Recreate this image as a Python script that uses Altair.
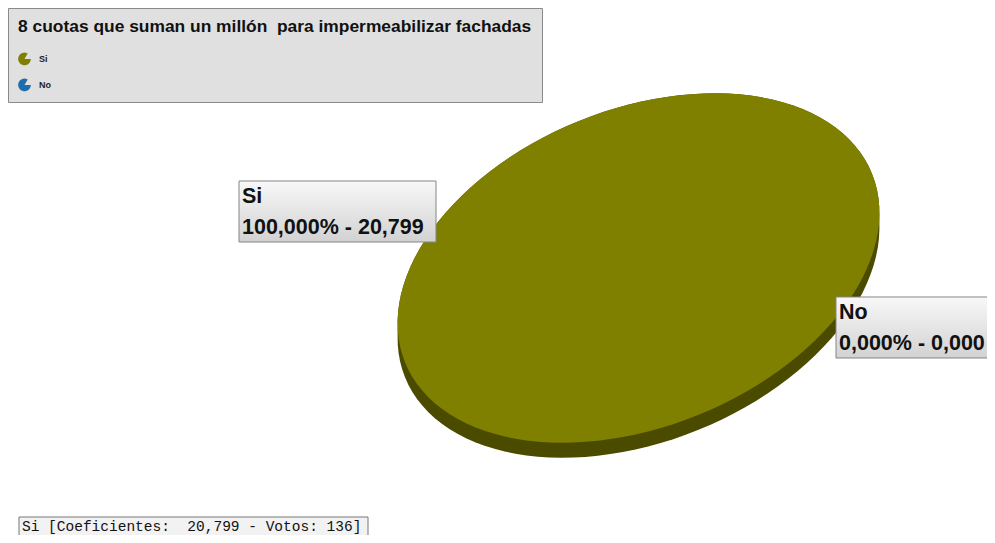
import math
import altair as alt
import pandas as pd

# ---------------- data ----------------
title_text = "8 cuotas que suman un millón\u00a0 para impermeabilizar fachadas"
categories = ["Si", "No"]
coeficientes = [20.799, 0.0]
votos = [136, 0]
colors = ["#808000", "#1b6dab"]

total = sum(coeficientes)


def fmt3(v):
    return f"{v:.3f}".replace(".", ",")


df = pd.DataFrame({
    "cat": categories,
    "coef": coeficientes,
    "votos": votos,
})
df["pct"] = [c / total * 100 if total else 0 for c in coeficientes]
df["line1"] = df["cat"]
df["line2"] = [f"{fmt3(p)}% - {fmt3(c)}" for p, c in zip(df["pct"], df["coef"])]
df["summary"] = [f"{k} [Coeficientes:\u00a0 {fmt3(c)} - Votos: {v}]" for k, c, v in zip(df["cat"], df["coef"], df["votos"])]

# ---------------- shapes (styles) ----------------
B_RATIO = 0.63         # minor / major axis of the tilted pie
TILT = math.radians(-22.0)
SEMI_MAJOR_PX = 251.8
DEPTH_PX = 15.0
depth_u = DEPTH_PX / SEMI_MAJOR_PX


def ellipse_pts(n=120, dy=0.0):
    pts = []
    for i in range(n):
        t = 2 * math.pi * i / n
        x = math.cos(t) * math.cos(TILT) - B_RATIO * math.sin(t) * math.sin(TILT)
        y = math.cos(t) * math.sin(TILT) + B_RATIO * math.sin(t) * math.cos(TILT) + dy
        pts.append((x, y))
    return pts


def hull(points):
    pts = sorted(set(points))
    def cross(o, a, b):
        return (a[0] - o[0]) * (b[1] - o[1]) - (a[1] - o[1]) * (b[0] - o[0])
    lower, upper = [], []
    for p in pts:
        while len(lower) >= 2 and cross(lower[-2], lower[-1], p) <= 0:
            lower.pop()
        lower.append(p)
    for p in reversed(pts):
        while len(upper) >= 2 and cross(upper[-2], upper[-1], p) <= 0:
            upper.pop()
        upper.append(p)
    return lower[:-1] + upper[:-1]


def to_path(pts):
    return "M" + " L".join(f"{x:.4f},{y:.4f}" for x, y in pts) + " Z"


top_path = to_path(ellipse_pts())
side_path = to_path(hull(ellipse_pts() + ellipse_pts(dy=depth_u)))

pac = ["0,0"]
for deg in range(0, 301, 10):
    a = math.radians(deg)
    pac.append(f"{math.cos(a):.3f},{math.sin(a):.3f}")
pac_path = "M" + " L".join(pac) + " Z"

pie_size = (2 * SEMI_MAJOR_PX) ** 2
CX, CY = 630.5, 260

W, H = 979, 527

base = alt.Chart(df)

color_scale = alt.Scale(domain=categories, range=colors)

side = base.transform_filter(alt.datum.coef > 0).mark_point(
    shape=side_path, filled=True, fill="#4b4b00", opacity=1, strokeWidth=0, size=pie_size
).encode(x=alt.value(CX), y=alt.value(CY))

top = base.transform_filter(alt.datum.coef > 0).mark_point(
    shape=top_path, filled=True, opacity=1, strokeWidth=0, size=pie_size
).encode(
    x=alt.value(CX), y=alt.value(CY),
    color=alt.Color("cat:N", scale=color_scale, legend=alt.Legend(
        title=title_text, orient="none", legendX=0, legendY=0,
        titleFont="Liberation Sans", titleFontSize=17.4, titleFontWeight="bold", titleColor="#111",
        titleLimit=2000, titlePadding=17,
        labelFont="Liberation Sans", labelFontSize=9, labelFontWeight="bold", labelColor="#222",
        labelOffset=8,
        symbolType=pac_path, symbolSize=160, symbolStrokeWidth=0, rowPadding=13,
        padding=10, fillColor="#e0e0e0", strokeColor="#8a8a8a",
    )),
)

grad = alt.Gradient(
    gradient="linear",
    stops=[alt.GradientStop(color="#f8f8f8", offset=0), alt.GradientStop(color="#d2d2d2", offset=1)],
    x1=0, x2=0, y1=0, y2=1,
)


def label_layers(cat, x0, y0, w, h):
    sub = base.transform_filter(alt.datum.cat == cat)
    box = sub.mark_rect(fill=grad, stroke="#858585", strokeWidth=1).encode(
        x=alt.value(x0), x2=alt.value(x0 + w), y=alt.value(y0), y2=alt.value(y0 + h)
    )
    t1 = sub.mark_text(align="left", baseline="alphabetic", font="Liberation Sans", fontSize=21.5,
                       fontWeight="bold", color="#111").encode(
        x=alt.value(x0 + 3), y=alt.value(y0 + 22), text="line1:N")
    t2 = sub.mark_text(align="left", baseline="alphabetic", font="Liberation Sans", fontSize=21.5,
                       fontWeight="bold", color="#111").encode(
        x=alt.value(x0 + 3), y=alt.value(y0 + 53), text="line2:N")
    return [box, t1, t2]


lab_si = label_layers("Si", 231, 173, 197, 61)
lab_no = label_layers("No", 828, 289, 200, 61)

bottom_sub = base.transform_filter(alt.datum.votos > 0)
bottom_box = bottom_sub.mark_rect(fill="#f2f2f2", stroke="#777", strokeWidth=1).encode(
    x=alt.value(11), x2=alt.value(360), y=alt.value(509), y2=alt.value(540)
)
bottom_text = bottom_sub.mark_text(align="left", baseline="alphabetic", font="Liberation Mono",
                                   fontSize=14.5, color="#111").encode(
    x=alt.value(14), y=alt.value(523), text="summary:N"
)

chart = alt.layer(side, top, *lab_si, *lab_no, bottom_box, bottom_text).properties(
    width=W, height=H, padding=0, autosize=alt.AutoSizeParams(type="none"),
    background="white",
).configure_view(stroke=None)

chart.save("out.html", embed_options={"renderer": "svg", "actions": False})
